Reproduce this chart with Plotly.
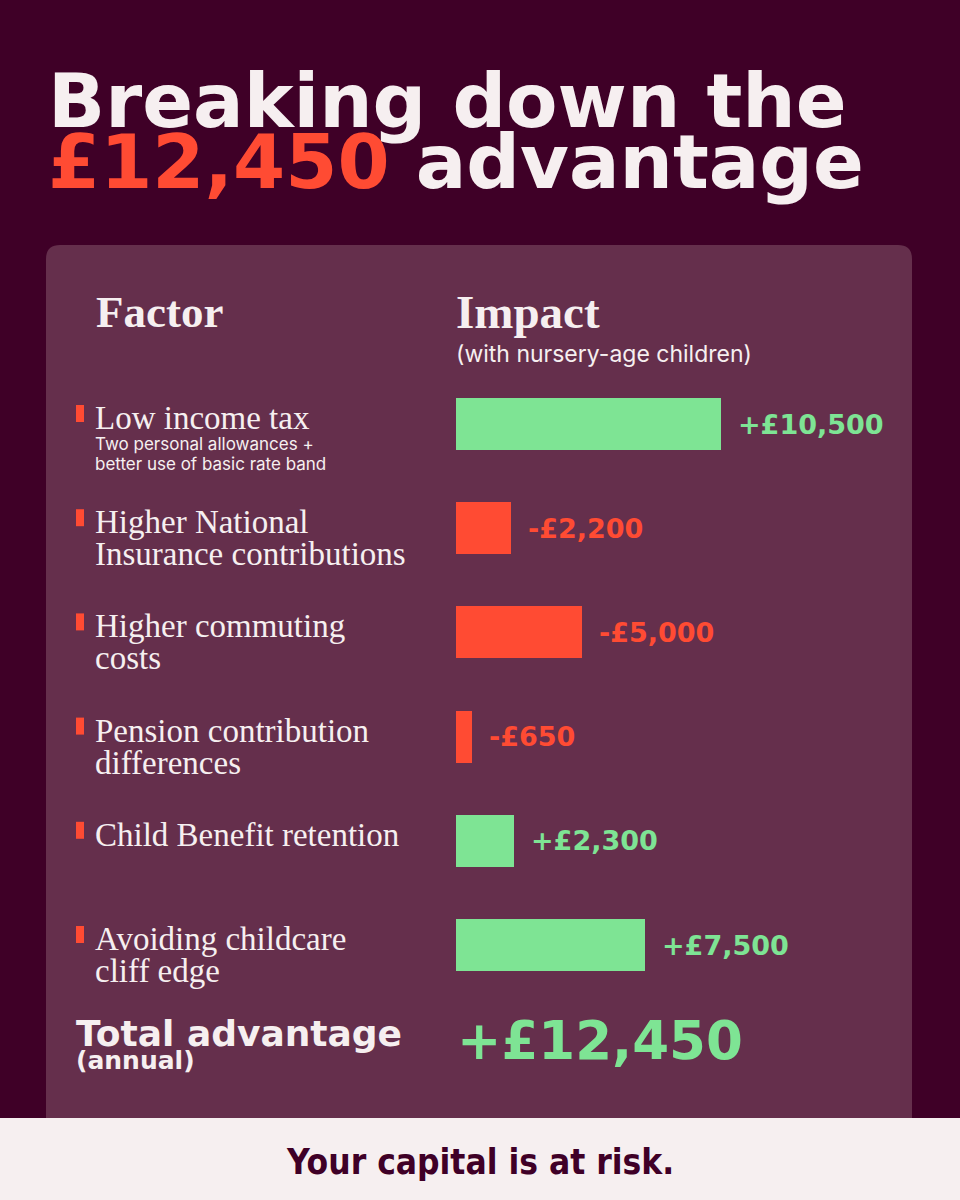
import plotly.graph_objects as go

# ---------------- data ----------------
FACTORS = [
    "Low income tax",
    "Higher National<br>Insurance contributions",
    "Higher commuting<br>costs",
    "Pension contribution<br>differences",
    "Child Benefit retention",
    "Avoiding childcare<br>cliff edge",
]
IMPACT = [10500, -2200, -5000, -650, 2300, 7500]
NOTES = ["Two personal allowances +<br>better use of basic rate band", "", "", "", "", ""]
TOTAL = 12450
TITLE_LINE1 = "Breaking down the"
TITLE_LINE2_LEAD = "£12,450"
TITLE_LINE2_TAIL = " advantage"
HEAD_FACTOR = "Factor"
HEAD_IMPACT = "Impact"
HEAD_IMPACT_SUB = "(with nursery-age children)"
TOTAL_LABEL = "Total advantage"
TOTAL_SUB = "(annual)"
FOOTER = "Your capital is at risk."

# ---------------- style ----------------
W, H = 960, 1200
BG = "#3f0027"
PANEL = "#652f4c"
LIGHT = "#f6eff0"
GREEN = "#7ee494"
RED = "#ff4b33"
SERIF = "Liberation Serif"
HEAVY = "DejaVu Sans"
SANS = "Inter"
NARROW = "DejaVu Sans Condensed, sans-serif"


def fmt(v):
    return ("+" if v > 0 else "-") + "£{:,}".format(abs(v))


def py(ypx):
    return 1 - ypx / H


def px(xpx):
    return xpx / W


colors = [GREEN if v > 0 else RED for v in IMPACT]
absvals = [abs(v) for v in IMPACT]

fig = go.Figure()
fig.add_trace(go.Bar(
    x=absvals, y=FACTORS, orientation="h", width=0.5,
    marker=dict(color=colors, line=dict(width=0)),
    hoverinfo="skip", showlegend=False,
))

annotations = []


def text(t, x, y, size, color=LIGHT, family=HEAVY, weight="normal", xanchor="left"):
    annotations.append(dict(
        text=t, x=px(x), y=py(y), xref="paper", yref="paper",
        xanchor=xanchor, yanchor="middle", showarrow=False,
        font=dict(size=size, color=color, family=family, weight=weight),
    ))


# title
text(TITLE_LINE1, 46, 101, 75, weight="bold")
text("<span style='color:%s'>%s</span>%s" % (RED, TITLE_LINE2_LEAD, TITLE_LINE2_TAIL),
     46, 162, 75, weight="bold")

# headers
text(HEAD_FACTOR, 94, 312, 45, family=SERIF, weight="bold")
text(HEAD_IMPACT, 454, 312, 47, family=SERIF, weight="bold")
text(HEAD_IMPACT_SUB, 454, 354, 23, family=SANS)

# factor labels, notes, value labels
shapes = []
for cat, val, note, col in zip(FACTORS, IMPACT, NOTES, colors):
    lines = cat.split("<br>")
    for k, ln in enumerate(lines):
        annotations.append(dict(
            text=ln, x=px(93), y=cat, xref="paper", yref="y",
            xanchor="left", yanchor="middle", yshift=6 - 32 * k, showarrow=False,
            font=dict(size=33, color=LIGHT, family=SERIF),
        ))
    if note:
        for k, ln in enumerate(note.split("<br>")):
            annotations.append(dict(
                text=ln, x=px(93), y=cat, xref="paper", yref="y",
                xanchor="left", yanchor="middle", yshift=-20 - 20 * k, showarrow=False,
                font=dict(size=17, color=LIGHT, family=SANS),
            ))
    annotations.append(dict(
        text=fmt(val), x=abs(val), y=cat, xref="x", yref="y",
        xanchor="left", yanchor="middle", xshift=15, showarrow=False,
        font=dict(size=27, color=col, family=HEAVY, weight="bold"),
    ))
    shapes.append(dict(
        type="rect", xref="paper", yref="y", ysizemode="pixel", yanchor=cat,
        x0=px(76), x1=px(84), y0=2, y1=19,
        fillcolor=RED, line=dict(width=0), layer="above",
    ))

# total
text(TOTAL_LABEL, 74, 1033, 36, weight="bold")
text(TOTAL_SUB, 74, 1060, 25, weight="bold")
text(fmt(TOTAL), 455, 1040, 53, color=GREEN, weight="bold")

# footer text
text(FOOTER, 480, 1162, 35, color=BG, family=NARROW, weight="bold", xanchor="center")

# panel (rounded top corners) and footer band
r = 14
x0, x1, y0, y1 = 46, 912, 245, 1118
path = (
    f"M {px(x0)} {py(y1)} L {px(x0)} {py(y0 + r)} "
    f"Q {px(x0)} {py(y0)} {px(x0 + r)} {py(y0)} "
    f"L {px(x1 - r)} {py(y0)} Q {px(x1)} {py(y0)} {px(x1)} {py(y0 + r)} "
    f"L {px(x1)} {py(y1)} Z"
)
shapes.insert(0, dict(type="path", path=path, xref="paper", yref="paper",
                      fillcolor=PANEL, line=dict(width=0), layer="below"))
shapes.append(dict(type="rect", xref="paper", yref="paper",
                   x0=0, x1=1, y0=0, y1=py(1118),
                   fillcolor=LIGHT, line=dict(width=0), layer="below"))

# axis scaling: px per pound, rows 104.2 px apart
PX_PER_UNIT = 0.0252
ROW_PX = 104.2
FIRST_ROW_PX = 424
xr = (912 - 456) / PX_PER_UNIT
ytop = -FIRST_ROW_PX / ROW_PX
ybot = ytop + H / ROW_PX

fig.update_layout(
    width=W, height=H, margin=dict(l=0, r=0, t=0, b=0),
    paper_bgcolor=BG, plot_bgcolor="rgba(0,0,0,0)",
    xaxis=dict(domain=[px(456), px(912)], range=[0, xr], visible=False, fixedrange=True),
    yaxis=dict(domain=[0, 1], type="category", categoryorder="array", categoryarray=FACTORS,
               range=[ybot, ytop], visible=False, fixedrange=True),
    annotations=annotations, shapes=shapes,
    bargap=0, showlegend=False,
)

fig.write_html(
    "out.html",
    config={"displayModeBar": False},
    post_script="document.body.style.margin='0';document.body.style.overflow='hidden';",
)
